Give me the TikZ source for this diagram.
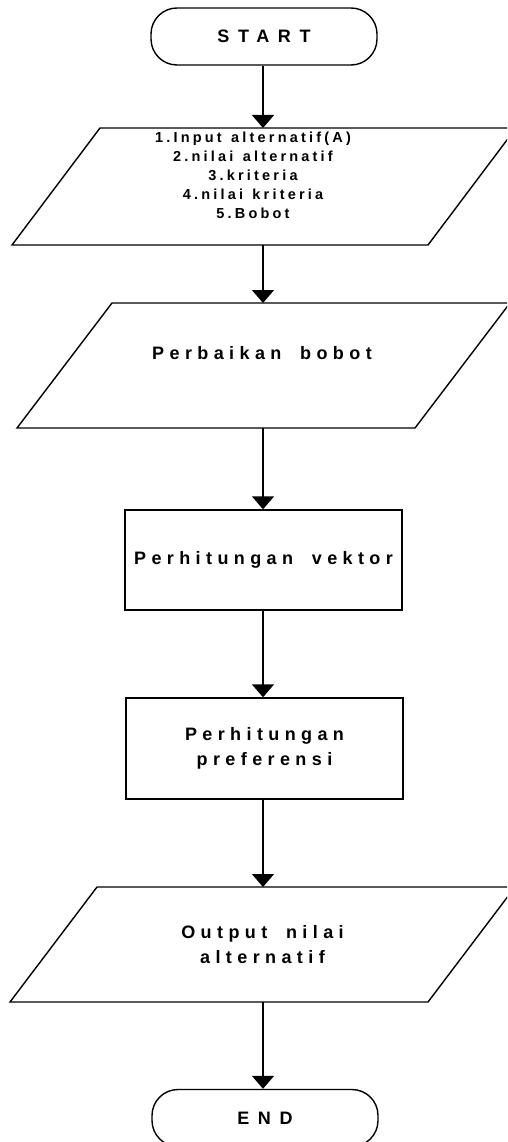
\documentclass[tikz,border=0pt]{standalone}
\usepackage{fontspec}
\setmainfont{Liberation Sans}
\newfontfamily\spA{Liberation Sans Bold}[LetterSpace=22,WordSpace=1.3]
\newfontfamily\spB{Liberation Sans Bold}[LetterSpace=30,WordSpace=1.8]
\newfontfamily\spC{Liberation Sans Bold}[LetterSpace=48]
\usetikzlibrary{arrows.meta}
\begin{document}
\begin{tikzpicture}[x=1pt,y=-1pt, line width=1.4pt,
  term/.style={draw, rounded corners=26pt, minimum width=226pt, minimum height=57pt, inner sep=0pt},
  iobox/.style={inner sep=0pt, outer sep=0pt},
  proc/.style={draw, minimum width=277pt, minimum height=100pt, inner sep=0pt},
  bigtxt/.style={font=\spC\fontsize{18}{20}\selectfont},
  midtxt/.style={align=center, font=\spB\fontsize{18}{25}\selectfont},
  smalltxt/.style={align=center, font=\spA\fontsize{14.5}{19}\selectfont},
  arr/.style={-{Triangle[width=22pt,length=13pt]}}]
\clip (0,0) rectangle (507,1142);
\fill[white] (0,0) rectangle (507,1142);
\node[term, bigtxt] (start) at (264,36.5) {START};
% input parallelogram
\node[iobox, minimum width=416pt, minimum height=117pt] (in) at (264,186.5) {};
\draw ([xshift=-44pt]in.south west) -- ([xshift=-44pt]in.south east) -- ([xshift=44pt]in.north east) -- ([xshift=44pt]in.north west) -- cycle;
\node[smalltxt] (intxt) at (253,175) {1.Input alternatif(A)\\2.nilai alternatif\\3.kriteria\\4.nilai kriteria\\5.Bobot};
% perbaikan bobot
\node[iobox, minimum width=398pt, minimum height=125pt] (bobot) at (263.5,365.5) {};
\draw ([xshift=-47.5pt]bobot.south west) -- ([xshift=-47.5pt]bobot.south east) -- ([xshift=47.5pt]bobot.north east) -- ([xshift=47.5pt]bobot.north west) -- cycle;
\node[midtxt] (bobottxt) at (262,353) {Perbaikan bobot};
\node[proc, midtxt] (vek) at (263.5,560) {Perhitungan vektor};
\node[proc, minimum height=101pt, midtxt] (pref) at (264.5,748.5) {Perhitungan\\preferensi};
% output
\node[iobox, minimum width=418pt, minimum height=115pt, midtxt] (out) at (262.5,944.5) {Output nilai\\alternatif};
\draw ([xshift=-43.5pt]out.south west) -- ([xshift=-43.5pt]out.south east) -- ([xshift=43.5pt]out.north east) -- ([xshift=43.5pt]out.north west) -- cycle;
\node[term, bigtxt] (end) at (265,1118) {END};
\draw[arr] (start.south -| 263,0) -- (in.north -| 263,0);
\draw[arr] (in.south -| 263,0) -- (bobot.north -| 263,0);
\draw[arr] (bobot.south -| 263,0) -- (vek.north -| 263,0);
\draw[arr] (vek.south -| 263,0) -- (pref.north -| 263,0);
\draw[arr] (pref.south -| 263,0) -- (out.north -| 263,0);
\draw[arr] (out.south -| 263,0) -- (end.north -| 263,0);
\end{tikzpicture}
\end{document}
